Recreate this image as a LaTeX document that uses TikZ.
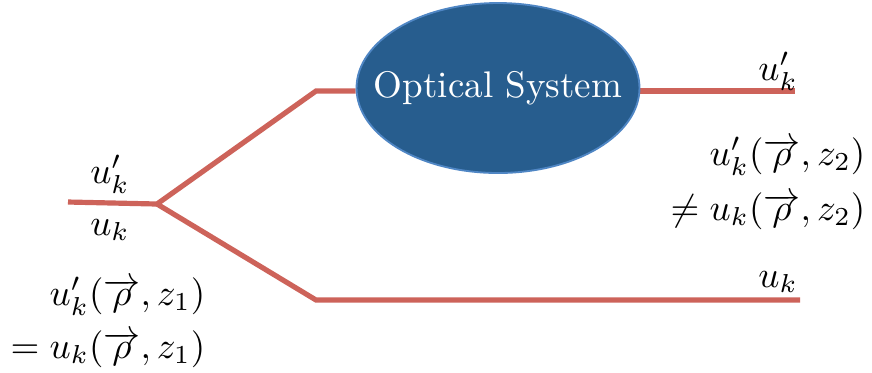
\documentclass[tikz,border=0pt]{standalone}
\usetikzlibrary{shapes.geometric,backgrounds}
\definecolor{beam}{RGB}{205,99,90}
\definecolor{sysfill}{RGB}{39,93,142}
\definecolor{sysedge}{RGB}{79,134,196}
\begin{document}
\begin{tikzpicture}[x=0.27pt,y=-0.27pt,
  beamline/.style={draw=beam,line width=1.4pt,line join=miter},
  sysnode/.style={ellipse,fill=sysfill,draw=sysedge,line width=0.5pt,
    minimum width=76.4pt,minimum height=45.9pt,inner sep=0pt},
  lbl/.style={inner sep=0pt,font=\fontsize{10}{12}\selectfont}]
\useasboundingbox (0,0) rectangle (872,372);

% optical element: the ellipse and its caption
\node[sysnode] (sys) at (498,88) {};
\node[lbl,text=white] (systxt) at (sys.center) {Optical System};

% beam path points
\coordinate (src) at (68,202);
\coordinate (fork) at (157,204);
\coordinate (bendU) at (316,91);
\coordinate (bendL) at (316,300);
\coordinate (outU) at (795,91);
\coordinate (outL) at (800,300);

\begin{pgfonlayer}{background}
\draw[beamline] (src) -- (fork) -- (bendU) -- (sys.west |- bendU);
\draw[beamline] (sys.east |- outU) -- (outU);
\draw[beamline] (fork) -- (bendL) -- (outL);
\end{pgfonlayer}

% labels at the fork
\node[lbl,anchor=base] (inU) at (110,183) {$u'_k$};
\node[lbl,anchor=base] (inL) at (110,235) {$u_k$};
\node[lbl,anchor=base east] (eqA) at (206,305) {$u'_k(\overrightarrow{\rho},z_1)$};
\node[lbl,anchor=base east] (eqB) at (206,358) {$=u_k(\overrightarrow{\rho},z_1)$};

% labels at the outputs
\node[lbl,anchor=base] (outUl) at (778,80) {$u'_k$};
\node[lbl,anchor=base] (outLl) at (778,287) {$u_k$};
\node[lbl,anchor=base east] (neA) at (866,165) {$u'_k(\overrightarrow{\rho},z_2)$};
\node[lbl,anchor=base east] (neB) at (866,220) {$\neq u_k(\overrightarrow{\rho},z_2)$};
\end{tikzpicture}
\end{document}
